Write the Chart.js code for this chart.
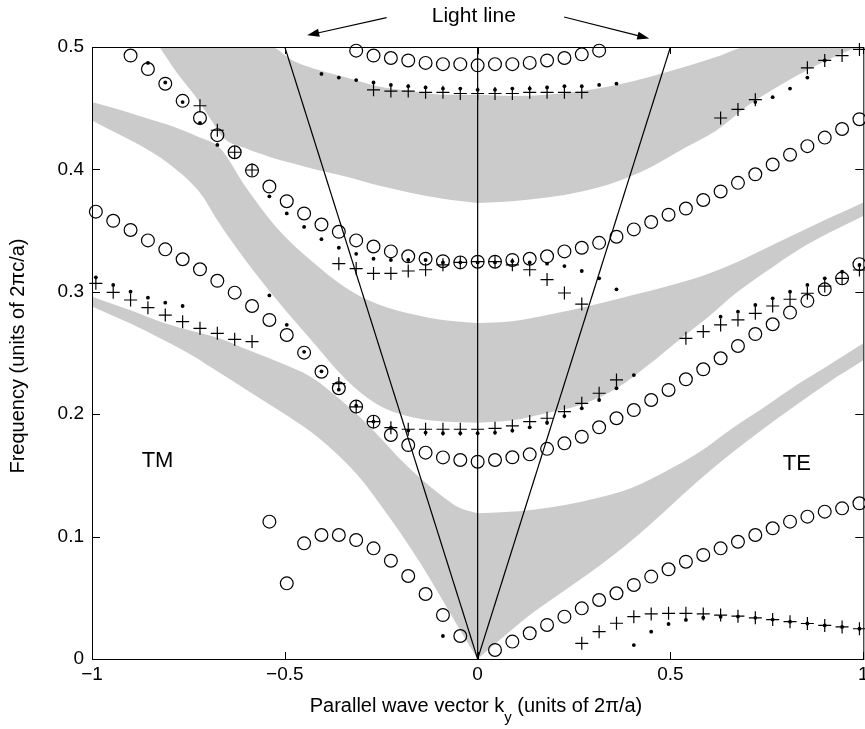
<!doctype html>
<html lang="en">
<head>
<meta charset="UTF-8" />
<title>Projected band diagram</title>
<style>
  html, body { margin: 0; padding: 0; background: #fff; overflow: hidden; }
  #wrap { width: 871px; height: 729px; }
</style>
</head>
<body>
<div id="wrap"><canvas id="bands" width="871" height="729"></canvas></div>

<script src="https://cdn.jsdelivr.net/npm/chart.js"></script>
<script>
const _ = null;

// k_y samples of the computed modes (units of 2pi/a)
const kGrid = [-0.99,-0.945,-0.9,-0.855,-0.81,-0.765,-0.72,-0.675,-0.63,-0.585,-0.54,-0.495,-0.45,-0.405,-0.36,-0.315,-0.27,-0.225,-0.18,-0.135,-0.09,-0.045,0,
               0.045,0.09,0.135,0.18,0.225,0.27,0.315,0.36,0.405,0.45,0.495,0.54,0.585,0.63,0.675,0.72,0.765,0.81,0.855,0.9,0.945,0.99];

// open circles
const circTop = [_,_,_,_,_, _,_,_,_,_, _,_,_,_,_, 0.497,0.493,0.491,0.489,0.487, 0.486,0.486,0.485,0.486,0.486, 0.487,0.489,0.491,0.494,0.497, _,_,_,_,_, _,_,_,_,_, _,_,_,_,_];
const circMid = [_,_,0.493,0.482,0.470, 0.456,0.442,0.428,0.414,0.399, 0.386,0.374,0.364,0.355,0.349, 0.342,0.337,0.333,0.329,0.327, 0.325,0.324,0.3246,0.3246,0.326, 0.327,0.329,0.333,0.336,0.340, 0.345,0.351,0.357,0.363,0.368, 0.375,0.382,0.389,0.396,0.404, 0.412,0.419,0.426,0.433,0.441];
const circLow = [0.3655,0.358,0.3505,0.342,0.3347, 0.3266,0.3184,0.309,0.2993,0.2884, 0.277,0.2647,0.2503,0.2347,0.2212, 0.2062,0.1939,0.183,0.1748,0.1686, 0.1647,0.1626,0.1612,0.1626,0.1648, 0.1672,0.1717,0.1762,0.1816,0.1893, 0.1967,0.2034,0.2116,0.2198,0.2285, 0.2367,0.2457,0.2557,0.2655,0.2735, 0.283,0.2926,0.302,0.311,0.3226];
const circBot = [_,_,_,_,_, _,_,_,_,_, 0.1122,0.0618,0.0945,0.1013,0.1013, 0.0972,0.0904,0.0803,0.0678,0.0531, 0.0359,0.0188,_,0.0074,0.0142, 0.021,0.0278,0.0346,0.0414,0.0482, 0.0537,0.0605,0.0673,0.0733,0.0795, 0.085,0.0904,0.0958,0.1013,0.1068, 0.1122,0.1163,0.1204,0.1231,0.1272];

// plus markers
const plusLeft  = [0.3069,0.2996,0.2933,0.287,0.281, 0.2756,0.2702,0.2661,0.2612,0.2593, _,_,_,_,_, _,_,_,_,_, _,_,_,_,_, _,_,_,_,_, _,_,_,_,_, _,_,_,_,_, _,_,_,_,_];
const plusMid   = [_,_,_,_,_, _,0.452,0.432,0.414,0.3995, _,_,_,_,0.323, 0.319,0.315,0.315,0.317,0.318, 0.322,0.324,0.3246,0.3246,0.322, 0.318,0.31,0.299,0.29,_, _,_,_,_,_, _,_,_,_,_, _,_,_,_,_];
const plusLow   = [_,_,_,_,_, _,_,_,_,_, _,_,_,_,0.225, 0.206,0.194,0.189,0.1877,0.1877, 0.1877,0.1877,0.1877,0.1885,0.1904, 0.194,0.1967,0.2021,0.2089,0.2171, 0.228,_,_,_,0.262, 0.2675,0.2729,0.277,0.2824,0.2884, 0.2939,0.2988,0.3047,0.311,0.3178];
const plusTop   = [_,_,_,_,_, _,_,_,_,_, _,_,_,_,_, _,0.465,0.464,0.464,0.463, 0.463,0.462,0.462,0.462,0.462, 0.463,0.463,0.463,0.463,_, _,_,_,_,_, _,_,_,_,_, _,_,_,_,_];
const plusRight = [_,_,_,_,_, _,_,_,_,_, _,_,_,_,_, _,_,_,_,_, _,_,_,_,_, _,_,_,_,_, _,_,_,_,_, _,0.442,0.449,0.457,_, _,0.483,0.489,0.493,0.498];
const plusBot   = [_,_,_,_,_, _,_,_,_,_, _,_,_,_,_, _,_,_,_,_, _,_,_,_,_, _,_,_,0.0128,0.0223, 0.0292,0.0346,0.0368,0.0373,0.0373, 0.0368,0.0359,0.035,0.0336,0.0322, 0.0305,0.029,0.0274,0.0262,0.0247];

// small dots
const dotLeft  = [0.3118,0.3056,0.3001,0.2952,0.2911, 0.2884,_,_,_,_, _,_,_,_,_, _,_,_,_,_, _,_,_,_,_, _,_,_,_,_, _,_,_,_,_, _,_,_,_,_, _,_,_,_,_];
const dotMid   = [_,_,_,0.487,0.471, 0.455,0.438,0.42,_,_, 0.378,0.364,0.353,0.343,0.336, 0.331,0.327,0.326,0.326,0.326, 0.324,0.324,0.324,0.324,0.325, 0.324,0.323,0.321,0.317,0.311, 0.302,_,_,_,_, _,_,_,_,_, _,_,_,_,_];
const dotLow   = [_,_,_,_,_, _,_,_,_,_, 0.297,0.273,0.251,0.235,0.22, 0.207,0.194,0.189,0.1866,0.185, 0.1845,0.1845,0.1845,0.185,0.1866, 0.1893,0.193,0.1985,0.2048,0.2116, 0.2212,0.232,_,_,_, _,0.2797,0.2838,0.2892,0.2947, 0.3001,0.3056,0.311,0.3164,0.3219];
const dotTop   = [_,_,_,_,_, _,_,_,_,_, _,_,_,0.478,0.475, 0.473,0.471,0.469,0.468,0.467, 0.466,0.466,0.465,0.465,0.466, 0.466,0.467,0.468,0.468,0.469, 0.47,_,_,_,_, _,_,_,_,_, _,_,_,_,_];
const dotRight = [_,_,_,_,_, _,_,_,_,_, _,_,_,_,_, _,_,_,_,_, _,_,_,_,_, _,_,_,_,_, _,_,_,_,_, _,_,_,0.455,0.459, 0.466,0.475,0.489,_,_];
const dotBot   = [_,_,_,_,_, _,_,_,_,_, _,_,_,_,_, _,_,_,_,_, 0.0188,_,_,_,_, _,_,_,_,_, _,0.0114,0.0223,0.0286,0.0319, 0.0337,0.0345,0.0347,0.0336,0.0322, 0.0305,0.029,0.0274,0.0262,0.0247];

// gray bands (projected bulk modes): edges sampled along k_y
const topLeftK   = [-0.825,-0.78,-0.73,-0.69,-0.66,-0.6,-0.537,-0.48,-0.41,-0.34,-0.26,-0.175,-0.09,0];
const topLeftHi  = [0.5,0.5,0.5,0.5,0.5,0.5,0.5,0.489,0.481,0.475,0.468,0.464,0.461,0.461];
const topLeftLo  = [0.5,0.479,0.459,0.44,0.426,0.417,0.41,0.405,0.399,0.394,0.387,0.381,0.376,0.3725];
const topRightK  = [0,0.09,0.18,0.27,0.36,0.45,0.54,0.62,0.70,0.78,0.86,0.94,1.0];
const topRightHi = [0.461,0.46,0.461,0.464,0.469,0.476,0.484,0.492,0.5,0.5,0.5,0.5,0.5];
const topRightLo = [0.3725,0.374,0.377,0.382,0.39,0.402,0.418,0.432,0.452,0.468,0.482,0.494,0.502];

const midLeftK   = [-1,-0.92,-0.85,-0.79,-0.72,-0.67,-0.6,-0.52,-0.43,-0.34,-0.26,-0.175,-0.09,0];
const midLeftHi  = [0.455,0.448,0.441,0.435,0.426,0.418,0.385,0.352,0.325,0.303,0.29,0.282,0.277,0.2745];
const midLeftLo  = [0.44,0.427,0.415,0.402,0.381,0.356,0.325,0.293,0.26,0.228,0.208,0.198,0.194,0.193];
const midRightK  = [0,0.09,0.18,0.27,0.36,0.45,0.52,0.6,0.67,0.75,0.83,0.91,1.0];
const midRightHi = [0.2745,0.276,0.281,0.287,0.294,0.301,0.307,0.315,0.324,0.336,0.348,0.36,0.373];
const midRightLo = [0.193,0.195,0.201,0.208,0.221,0.242,0.26,0.28,0.299,0.317,0.334,0.348,0.362];

const lowLeftK   = [-1,-0.9,-0.817,-0.74,-0.67,-0.6,-0.52,-0.43,-0.36,-0.3,-0.25,-0.2,-0.15,-0.1,-0.05,0];
const lowLeftHi  = [0.296,0.285,0.275,0.268,0.262,0.253,0.243,0.23,0.213,0.196,0.18,0.163,0.148,0.135,0.124,0.119];
const lowLeftLo  = [0.288,0.274,0.261,0.248,0.234,0.22,0.204,0.185,0.166,0.146,0.125,0.103,0.079,0.053,0.026,0];
const lowRightK  = [0,0.07,0.144,0.23,0.315,0.4,0.486,0.57,0.658,0.74,0.828,0.91,1.0];
const lowRightHi = [0.119,0.12,0.122,0.126,0.132,0.14,0.153,0.168,0.188,0.205,0.224,0.24,0.258];
const lowRightLo = [0,0.019,0.038,0.057,0.076,0.097,0.121,0.145,0.168,0.188,0.208,0.226,0.244];

// light lines and axis ticks
const lightK = [-0.5, 0, 0.5];
const lightF = [0.5, 0, 0.5];
const xTicks = [-1, -0.5, 0, 0.5, 1];
const yTicks = [0, 0.1, 0.2, 0.3, 0.4, 0.5];

const FONT = '"Liberation Sans", Arial, Helvetica, sans-serif';
const GRAY = "#cbcbcb";

function pts(ks, fs) {
    const out = [];
    ks.forEach((k, i) => { if (fs[i] !== null) out.push({ x: k, y: fs[i] }); });
    return out;
}

function band(ks, hi, lo) {
    const common = {
        borderWidth: 0, pointRadius: 0, backgroundColor: GRAY,
        cubicInterpolationMode: "monotone", order: 3,
    };
    return [
        Object.assign({ data: pts(ks, hi), fill: "+1" }, common),
        Object.assign({ data: pts(ks, lo), fill: false }, common),
    ];
}

function markers(fs, kind) {
    const base = { data: pts(kGrid, fs), showLine: false, clip: false, order: 0 };
    if (kind === "circle") {
        return Object.assign(base, { pointStyle: "circle", pointRadius: 6.4, pointBorderWidth: 1.2,
            pointBorderColor: "#000", pointBackgroundColor: "rgba(0,0,0,0)" });
    }
    if (kind === "plus") {
        return Object.assign(base, { pointStyle: "cross", pointRadius: 6.5, pointBorderWidth: 1.2,
            pointBorderColor: "#000", pointBackgroundColor: "#000" });
    }
    return Object.assign(base, { pointStyle: "circle", pointRadius: 1.9, pointBorderWidth: 0,
        pointBorderColor: "#000", pointBackgroundColor: "#000" });
}

function lightLine(i) {
    return { data: [{ x: 0, y: 0 }, { x: lightK[i], y: lightF[i] }], borderColor: "#000",
             borderWidth: 1.2, pointRadius: 0, fill: false, order: 1 };
}

const datasets = [
    ...band(topLeftK, topLeftHi, topLeftLo),
    ...band(topRightK, topRightHi, topRightLo),
    ...band(midLeftK, midLeftHi, midLeftLo),
    ...band(midRightK, midRightHi, midRightLo),
    ...band(lowLeftK, lowLeftHi, lowLeftLo),
    ...band(lowRightK, lowRightHi, lowRightLo),
    lightLine(0), lightLine(2),
    { data: [{ x: 0, y: 0 }, { x: 0, y: 0.5 }], borderColor: "#000", borderWidth: 1.2, pointRadius: 0, fill: false, order: 1 },
    markers(circTop, "circle"), markers(circMid, "circle"), markers(circLow, "circle"), markers(circBot, "circle"),
    markers(plusLeft, "plus"), markers(plusMid, "plus"), markers(plusLow, "plus"),
    markers(plusTop, "plus"), markers(plusRight, "plus"), markers(plusBot, "plus"),
    markers(dotLeft, "dot"), markers(dotMid, "dot"), markers(dotLow, "dot"),
    markers(dotTop, "dot"), markers(dotRight, "dot"), markers(dotBot, "dot"),
];

function arrow(ctx, x1, y1, x2, y2) {
    const a = Math.atan2(y2 - y1, x2 - x1);
    const L = 12, W = 4;
    ctx.beginPath();
    ctx.moveTo(x1, y1);
    ctx.lineTo(x2 - 0.8 * L * Math.cos(a), y2 - 0.8 * L * Math.sin(a));
    ctx.stroke();
    ctx.beginPath();
    ctx.moveTo(x2, y2);
    ctx.lineTo(x2 - L * Math.cos(a) + W * Math.sin(a), y2 - L * Math.sin(a) - W * Math.cos(a));
    ctx.lineTo(x2 - L * Math.cos(a) - W * Math.sin(a), y2 - L * Math.sin(a) + W * Math.cos(a));
    ctx.closePath();
    ctx.fill();
}

// frame, inward ticks, labels and the light-line note
const decorations = {
    id: "decorations",
    afterDatasetsDraw(chart) {
        const ctx = chart.ctx;
        const a = chart.chartArea;
        const xs = chart.scales.x, ys = chart.scales.y;
        const P = (k, f) => [xs.getPixelForValue(k), ys.getPixelForValue(f)];
        ctx.save();
        ctx.strokeStyle = "#000";
        ctx.fillStyle = "#000";
        ctx.lineWidth = 1;
        ctx.strokeRect(a.left + 0.5, a.top + 0.5, a.right - a.left, a.bottom - a.top);

        ctx.beginPath();
        xTicks.forEach(t => {
            const px = Math.round(xs.getPixelForValue(t)) + 0.5;
            ctx.moveTo(px, a.bottom); ctx.lineTo(px, a.bottom - 7);
            ctx.moveTo(px, a.top); ctx.lineTo(px, a.top + 7);
        });
        yTicks.forEach(t => {
            const py = Math.round(ys.getPixelForValue(t)) + 0.5;
            ctx.moveTo(a.left, py); ctx.lineTo(a.left + 8, py);
            ctx.moveTo(a.right, py); ctx.lineTo(a.right - 8, py);
        });
        ctx.stroke();

        ctx.lineWidth = 1.2;
        let p1 = P(-0.236, 0.524), p2 = P(-0.442, 0.5095);
        arrow(ctx, p1[0], p1[1], p2[0], p2[1]);
        p1 = P(0.224, 0.5245); p2 = P(0.445, 0.507);
        arrow(ctx, p1[0], p1[1], p2[0], p2[1]);

        ctx.textAlign = "center";
        ctx.textBaseline = "middle";
        ctx.font = "21px " + FONT;
        const lt = P(-0.01, 0.525);
        ctx.fillText("Light line", lt[0], lt[1]);

        ctx.font = "22px " + FONT;
        let q = P(-0.83, 0.1618);
        ctx.fillText("TM", q[0], q[1]);
        q = P(0.8275, 0.1593);
        ctx.fillText("TE", q[0], q[1]);

        // x title with subscript
        ctx.font = "20px " + FONT;
        const s1 = "Parallel wave vector k", s3 = " (units of 2\u03c0/a)";
        const w1 = ctx.measureText(s1).width, w3 = ctx.measureText(s3).width;
        ctx.font = "15px " + FONT;
        const w2 = ctx.measureText("y").width;
        const total = w1 + w2 + w3;
        let x0 = 476 - total / 2;
        ctx.textAlign = "left";
        ctx.font = "20px " + FONT;
        ctx.fillText(s1, x0, 706);
        ctx.font = "15px " + FONT;
        ctx.fillText("y", x0 + w1, 718);
        ctx.font = "20px " + FONT;
        ctx.fillText(s3, x0 + w1 + w2, 706);

        // y title
        ctx.translate(18, 356);
        ctx.rotate(-Math.PI / 2);
        ctx.textAlign = "center";
        ctx.fillText("Frequency (units of 2\u03c0c/a)", 0, 0);
        ctx.restore();
    },
};

new Chart(document.getElementById("bands"), {
    type: "line",
    data: { datasets },
    options: {
        responsive: false,
        animation: false,
        events: [],
        layout: { padding: { top: 47, right: 2, left: 0, bottom: 0 } },
        plugins: { legend: { display: false }, tooltip: { enabled: false } },
        scales: {
            x: {
                type: "linear", min: -1, max: 1,
                grid: { display: false, drawTicks: false },
                border: { display: false },
                afterBuildTicks: s => { s.ticks = xTicks.map(v => ({ value: v })); },
                ticks: {
                    padding: 4, color: "#000", autoSkip: false, maxRotation: 0,
                    font: { family: FONT, size: 19 },
                    callback: v => String(v).replace("-", "\u2212"),
                },
                afterFit: s => { s.height = 70; s.paddingLeft = 0; s.paddingRight = 0; },
            },
            y: {
                type: "linear", min: 0, max: 0.5,
                grid: { display: false, drawTicks: false },
                border: { display: false },
                afterBuildTicks: s => { s.ticks = yTicks.map(v => ({ value: v })); },
                ticks: {
                    padding: 8, color: "#000",
                    font: { family: FONT, size: 19 },
                    callback: v => String(v),
                },
                afterFit: s => { s.width = 92; s.paddingTop = 0; s.paddingBottom = 0; },
            },
        },
    },
    plugins: [decorations],
});
</script>
</body>
</html>
